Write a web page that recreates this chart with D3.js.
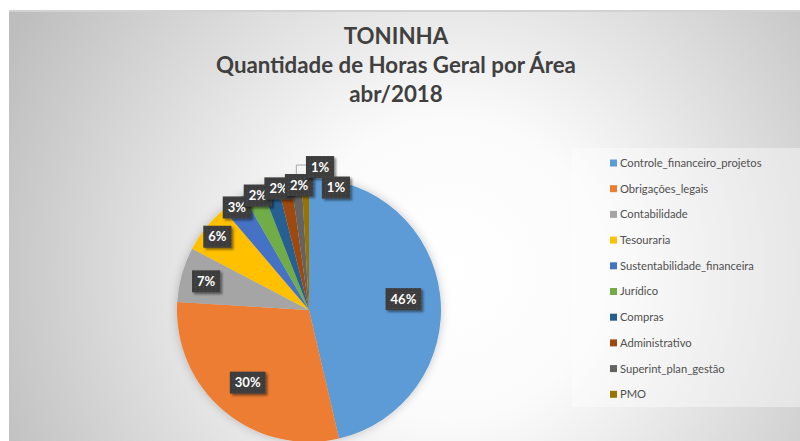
<!DOCTYPE html>
<html><head><meta charset="utf-8">
<script src="https://cdn.jsdelivr.net/npm/d3@7"></script>
<style>body{margin:0;background:#fff;overflow:hidden}</style>
</head><body><svg id="c" width="800" height="441"></svg>
<script>
const categories = ["Controle_financeiro_projetos","Obrigações_legais","Contabilidade","Tesouraria","Sustentabilidade_financeira","Jurídico","Compras","Administrativo","Superint_plan_gestão","PMO"];
const hours = [46.3, 29.6, 6.7, 6.1, 2.9, 2.4, 2.0, 1.7, 1.3, 0.9];
const colors = ["#5B9BD5","#ED7D31","#A5A5A5","#FFC000","#4472C4","#70AD47","#255E91","#9E480E","#636363","#997300"];
const titleLines = ["TONINHA","Quantidade de Horas Geral por Área","abr/2018"];

const svg = d3.select("#c");
const defs = svg.append("defs");
const rg = defs.append("radialGradient").attr("id","bg").attr("gradientUnits","userSpaceOnUse")
  .attr("cx",450).attr("cy",270).attr("r",500);
rg.append("stop").attr("offset","0").attr("stop-color","#ffffff");
rg.append("stop").attr("offset","0.3").attr("stop-color","#fbfbfb");
rg.append("stop").attr("offset","1").attr("stop-color","#bdbdbd");
const pat = defs.append("pattern").attr("id","dots").attr("width",4).attr("height",4).attr("patternUnits","userSpaceOnUse");
pat.append("rect").attr("width",4).attr("height",4).attr("fill","#3d3d3d");
pat.append("rect").attr("x",1).attr("y",1).attr("width",1).attr("height",1).attr("fill","#4f4f4f");
const sh = defs.append("filter").attr("id","sh").attr("x","-30%").attr("y","-30%").attr("width","160%").attr("height","160%");
sh.append("feDropShadow").attr("dx",2).attr("dy",2).attr("stdDeviation",1.2).attr("flood-color","#000").attr("flood-opacity",0.45);
const psh = defs.append("filter").attr("id","psh").attr("x","-20%").attr("y","-20%").attr("width","140%").attr("height","140%");
psh.append("feDropShadow").attr("dx",0).attr("dy",0).attr("stdDeviation",5).attr("flood-color","#000").attr("flood-opacity",0.22);

// background
svg.append("rect").attr("x",9).attr("y",10).attr("width",791).attr("height",431).attr("fill","url(#bg)");
svg.append("line").attr("x1",9).attr("x2",800).attr("y1",11).attr("y2",11).attr("stroke","#d2d2d2").attr("stroke-width",2);

// title
const tg = svg.append("g").attr("font-family","Lato, 'Open Sans', sans-serif").attr("font-weight","bold").attr("fill","#404040").attr("text-anchor","middle");
const probe = tg.append("text").attr("font-size",20).text(titleLines[1]);
const fs = 20 * 360 / probe.node().getComputedTextLength();
probe.remove();
const baselines = [44, 73, 102];
titleLines.forEach((t,i)=> tg.append("text").attr("x",396).attr("y",baselines[i]).attr("font-size",fs).text(t));

// pie
const cx=309, cy=310, R=132;
const pie = d3.pie().sort(null).value(d=>d);
const arcs = pie(hours);
const arc = d3.arc().innerRadius(0).outerRadius(R);
const total = d3.sum(hours);
const pg = svg.append("g").attr("transform",`translate(${cx},${cy})`);
pg.append("g").attr("filter","url(#psh)").selectAll("path").data(arcs).join("path")
  .attr("d",arc).attr("fill",(d,i)=>colors[i]);

// labels
const lg = svg.append("g");
const LFS = 13;
const measure = svg.append("text").attr("font-family","Lato").attr("font-weight","bold").attr("font-size",LFS);
const boxH = 22, padX = 5;
const placed = [];
let prevAng = -Infinity;
const deg = Math.PI/180;
arcs.forEach((a,i)=>{
  const txt = Math.round(a.value/total*100)+"%";
  measure.text(txt);
  const w = measure.node().getComputedTextLength() + 2*padX;
  const span = a.endAngle - a.startAngle;
  const mid = (a.startAngle + a.endAngle)/2;
  const r0 = Math.max(0.72*R, Math.min(0.95*R, 45/span));
  const small = span < 0.2;
  const minA = Math.max(mid, small ? prevAng + 8*deg : -Infinity);
  const ok = (x,y)=> !placed.some(p=>Math.abs(p.x-x) < (p.w+w)/2-8 && Math.abs(p.y-y) < boxH-3);
  let found = null;
  for (let k=0;k<=24 && !found;k++){ // inner radius, limited push from mid
    const ang = minA + k*0.5*deg;
    if (ang - mid > 8*deg && k>0) break;
    const x=cx+r0*Math.sin(ang), y=cy-r0*Math.cos(ang);
    if (ok(x,y)) found={x,y,ang,outer:false};
  }
  for (let k=0;k<120 && !found;k++){
    const ang = minA + k*0.5*deg;
    for (const r of [r0+18, r0]){
      const x=cx+r*Math.sin(ang), y=cy-r*Math.cos(ang);
      if (ok(x,y)) { found={x,y,ang,outer:r>r0}; break; }
    }
  }
  placed.push({x:found.x,y:found.y,w,txt,outer:found.outer,mid});
  prevAng = found.ang;
});
measure.remove();

placed.forEach(p=>{
  if (p.outer){
    const ex = cx + (R-2)*Math.sin(p.mid), ey = cy - (R-2)*Math.cos(p.mid);
    const bl = p.x - p.w/2;
    const pts = ex < bl ? [[ex,ey],[ex,p.y-2],[bl,p.y-2]] : [[ex,ey],[ex,p.y+boxH/2]];
    lg.append("path").attr("d",d3.line()(pts)).attr("fill","none").attr("stroke","#a6a6a6").attr("stroke-width",1);
  }
});
placed.forEach(p=>{
  const g = lg.append("g").attr("transform",`translate(${p.x},${p.y})`);
  g.append("rect").attr("x",-p.w/2).attr("y",-boxH/2).attr("width",p.w).attr("height",boxH)
    .attr("fill","url(#dots)").attr("filter","url(#sh)");
  g.append("text").attr("text-anchor","middle").attr("dy","0.36em").attr("fill","#ffffff")
    .attr("font-family","Lato").attr("font-weight","bold").attr("font-size",LFS).text(p.txt);
});

// legend
svg.append("rect").attr("x",572).attr("y",148).attr("width",228).attr("height",259).attr("fill","#ffffff").attr("fill-opacity",0.4);
const leg = svg.append("g").selectAll("g").data(categories).join("g")
  .attr("transform",(d,i)=>`translate(610,${163 + i*25.7})`);
leg.append("rect").attr("x",0).attr("y",-3.5).attr("width",7).attr("height",7).attr("fill",(d,i)=>colors[i]);
leg.append("text").attr("x",10).attr("dy","0.35em").attr("font-family","Lato").attr("font-size",11.2).attr("fill","#505050").text(d=>d);
</script></body></html>
